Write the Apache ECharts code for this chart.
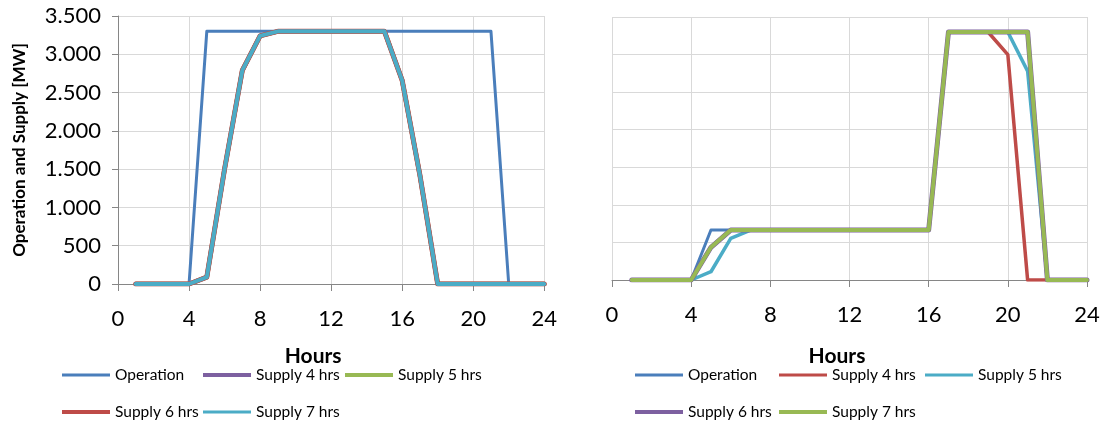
<!DOCTYPE html>
<html>
<head>
<meta charset="utf-8">
<script src="https://cdn.jsdelivr.net/npm/echarts@6/dist/echarts.min.js"></script>
<style>
  html, body { margin: 0; padding: 0; background: #fff; }
  #left { position: absolute; left: 0; top: 0; width: 560px; height: 422px; }
  #right { position: absolute; left: 560px; top: 0; width: 546px; height: 422px; }
</style>
</head>
<body>
<div id="left"></div>
<div id="right"></div>
<script>
// hours of the day (x values)
var hours = [1, 2, 3, 4, 5, 6, 7, 8, 9, 10, 11, 12, 13, 14, 15, 16, 17, 18, 19, 20, 21, 22, 23, 24];
var xTicks = [0, 4, 8, 12, 16, 20, 24];
var yTicks = [0, 500, 1000, 1500, 2000, 2500, 3000, 3500];

// left chart
var opLeft = [0, 0, 0, 0, 3300, 3300, 3300, 3300, 3300, 3300, 3300, 3300, 3300, 3300, 3300, 3300, 3300, 3300, 3300, 3300, 3300, 0, 0, 0];
var sup4Left = [0, 0, 0, 0, 90, 1500, 2790, 3240, 3300, 3300, 3300, 3300, 3300, 3300, 3300, 2660, 1420, 0, 0, 0, 0, 0, 0, 0];
var sup5Left = [0, 0, 0, 0, 90, 1500, 2790, 3240, 3300, 3300, 3300, 3300, 3300, 3300, 3300, 2660, 1420, 0, 0, 0, 0, 0, 0, 0];
var sup6Left = [0, 0, 0, 0, 90, 1500, 2790, 3240, 3300, 3300, 3300, 3300, 3300, 3300, 3300, 2660, 1420, 0, 0, 0, 0, 0, 0, 0];
var sup7Left = [0, 0, 0, 0, 90, 1500, 2790, 3240, 3300, 3300, 3300, 3300, 3300, 3300, 3300, 2660, 1420, 0, 0, 0, 0, 0, 0, 0];

// right chart
var opRight = [0, 0, 0, 0, 665, 665, 665, 665, 665, 665, 665, 665, 665, 665, 665, 665, 3300, 3300, 3300, 3300, 3300, 0, 0, 0];
var sup4Right = [0, 0, 0, 0, 435, 665, 665, 665, 665, 665, 665, 665, 665, 665, 665, 665, 3300, 3300, 3300, 3000, 0, 0, 0, 0];
var sup5Right = [0, 0, 0, 0, 110, 555, 665, 665, 665, 665, 665, 665, 665, 665, 665, 665, 3300, 3300, 3300, 3300, 2780, 0, 0, 0];
var sup6Right = [0, 0, 0, 0, 435, 665, 665, 665, 665, 665, 665, 665, 665, 665, 665, 665, 3300, 3300, 3300, 3300, 3300, 0, 0, 0];
var sup7Right = [0, 0, 0, 0, 435, 665, 665, 665, 665, 665, 665, 665, 665, 665, 665, 665, 3300, 3300, 3300, 3300, 3300, 0, 0, 0];

var BLUE = '#4a7ebb', RED = '#be4b48', GREEN = '#98b954', PURPLE = '#7d60a0', CYAN = '#4bacc6';
var FONT = 'Lato';

function pairs(vals) {
  return hours.map(function (h, i) { return [h, vals[i]]; });
}

function dotted(v) {
  return String(v).replace(/\B(?=(\d{3})+(?!\d))/g, '.');
}

function lineSeries(name, vals, color, width) {
  return {
    name: name,
    type: 'line',
    data: pairs(vals),
    symbol: 'none',
    animation: false,
    lineStyle: { color: color, width: width, join: 'round', cap: 'round' },
    itemStyle: { color: color }
  };
}

// one legend box per item, so the columns line up like the original
function legendItem(name, color, thick, left, top) {
  return {
    left: left,
    top: top,
    itemWidth: 48,
    itemHeight: 12,
    selectedMode: false,
    textStyle: { fontFamily: FONT, fontSize: 15.5, color: '#000' },
    data: [{
      name: name,
      icon: 'path://M0,0L48,0L48,' + thick + 'L0,' + thick + 'Z',
      itemStyle: { color: color }
    }]
  };
}

function buildOption(cfg) {
  return {
    animation: false,
    grid: cfg.grid,
    xAxis: {
      type: 'value',
      min: xTicks[0],
      max: xTicks[xTicks.length - 1],
      interval: xTicks[1] - xTicks[0],
      name: 'Hours',
      nameLocation: 'middle',
      nameGap: cfg.nameGap,
      nameTextStyle: { fontFamily: FONT, fontSize: 21, fontWeight: 'bold', color: '#000', padding: cfg.namePad },
      axisLine: { lineStyle: { color: '#868686', width: 1 } },
      axisTick: { length: 7, lineStyle: { color: '#868686' } },
      axisLabel: { fontFamily: FONT, fontSize: 22, color: '#000', margin: 24 },
      splitLine: { show: true, lineStyle: { color: '#d9d9d9', width: 1 } }
    },
    yAxis: {
      type: 'value',
      min: yTicks[0],
      max: yTicks[yTicks.length - 1],
      interval: yTicks[1] - yTicks[0],
      name: cfg.yName,
      nameLocation: 'middle',
      nameGap: 90,
      nameTextStyle: { fontFamily: FONT, fontSize: 17, fontWeight: 'bold', color: '#000' },
      axisLine: { show: cfg.yLabels, lineStyle: { color: '#868686', width: 1 } },
      axisTick: { show: cfg.yLabels, length: 6, lineStyle: { color: '#868686' } },
      axisLabel: { show: cfg.yLabels, fontFamily: FONT, fontSize: 22, color: '#000', margin: 17, formatter: dotted },
      splitLine: { show: true, lineStyle: { color: '#d9d9d9', width: 1 } }
    },
    legend: cfg.names.map(function (n, i) {
      return legendItem(n, cfg.colors[i], cfg.legendThick[i], cfg.legendX[i], cfg.legendY[i]);
    }),
    series: cfg.names.map(function (n, i) {
      return lineSeries(n, cfg.values[i], cfg.colors[i], cfg.widths[i]);
    })
  };
}

var names = ['Operation', 'Supply 4 hrs', 'Supply 5 hrs', 'Supply 6 hrs', 'Supply 7 hrs'];

var leftChart = echarts.init(document.getElementById('left'));
leftChart.setOption(buildOption({
  grid: { left: 118, top: 16, width: 437, height: 268 },
  nameGap: 62,
  namePad: [0, 36, 0, 0],
  yName: 'Operation and Supply [MW]',
  yLabels: true,
  names: names,
  values: [opLeft, sup4Left, sup5Left, sup6Left, sup7Left],
  colors: [BLUE, PURPLE, GREEN, RED, CYAN],
  widths: [3, 4.5, 4.5, 5, 4],
  legendThick: [3, 4, 4, 4, 3],
  legendX: [57, 198, 340, 57, 198],
  legendY: [362, 362, 362, 399, 399]
}));

var rightChart = echarts.init(document.getElementById('right'));
rightChart.setOption(buildOption({
  grid: { left: 52, top: 17, width: 475, height: 263 },
  nameGap: 66,
  namePad: [0, 25, 0, 0],
  yName: '',
  yLabels: false,
  names: names,
  values: [opRight, sup4Right, sup5Right, sup6Right, sup7Right],
  colors: [BLUE, RED, CYAN, PURPLE, GREEN],
  widths: [3, 3.5, 3.5, 5, 4],
  legendThick: [3, 3, 3, 4, 4],
  legendX: [70, 214, 360, 70, 214],
  legendY: [362, 362, 362, 399, 399]
}));
</script>
</body>
</html>
